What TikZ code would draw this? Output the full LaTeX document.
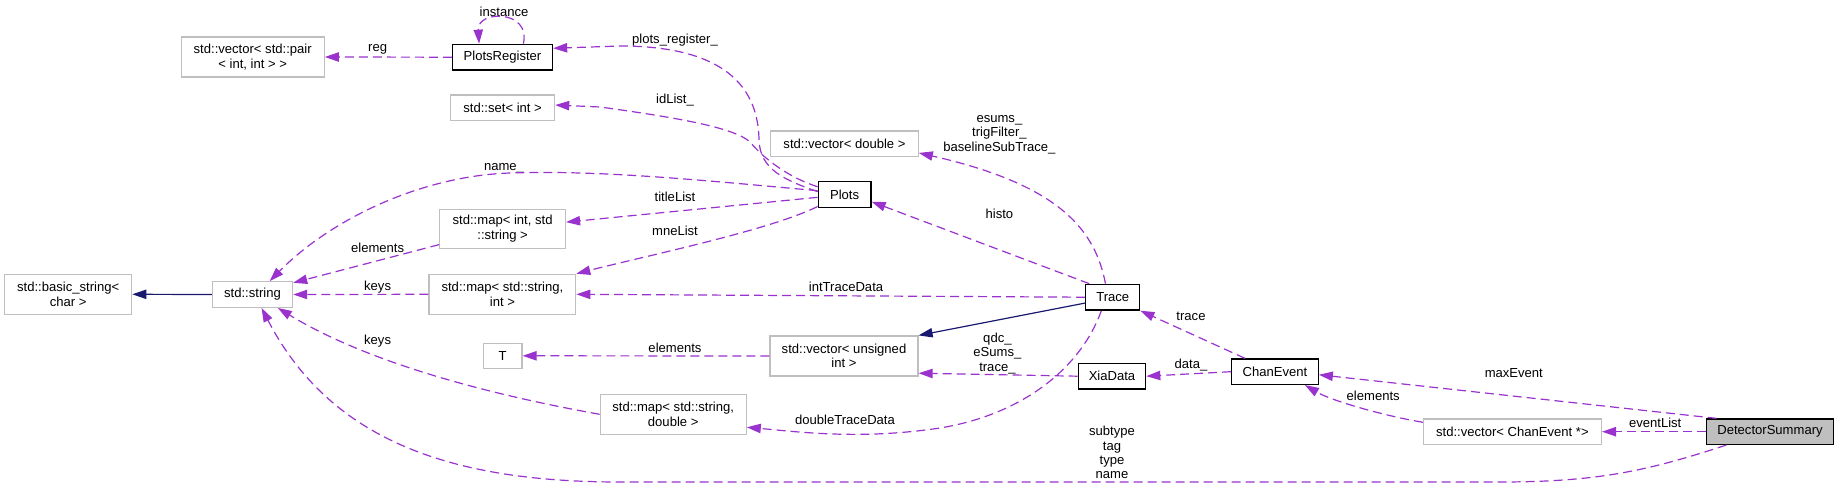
\documentclass[tikz,border=0pt]{standalone}
\usepackage{fontspec}
\setmainfont{Liberation Sans}
\usetikzlibrary{arrows.meta}
\definecolor{usecol}{HTML}{9A32CD}
\definecolor{inhcol}{HTML}{191970}
\definecolor{extcol}{HTML}{BFBFBF}

\begin{document}
\begin{tikzpicture}[x=0.75pt, y=-0.75pt,
    every node/.style={font=\fontsize{9.8}{10.8}\selectfont},
    cls/.style={draw=black, line width=1pt, rectangle, inner sep=0pt, minimum height=19.3pt, align=center},
    ext/.style={draw=extcol, line width=0.9pt, rectangle, inner sep=0pt, minimum height=19.3pt, align=center},
    two/.style={minimum height=30pt},
    use/.style={draw=usecol, line width=0.9pt, dash pattern=on 6.75pt off 3.75pt, -{Triangle[length=10.5pt,width=7pt]}},
    inh/.style={draw=inhcol, line width=0.9pt, -{Triangle[length=10.5pt,width=7pt]}},
    lbl/.style={inner sep=0pt, align=center}]
    \useasboundingbox (0,0) rectangle (1839,488);

    % classes
    \node[ext, two, minimum width=107.3pt] (pair) at (252.7,57) {std::vector< std::pair\\< int, int > >};
    \node[cls, minimum width=75pt] (PlotsRegister) at (502.5,57.2) {PlotsRegister};
    \node[ext, minimum width=78pt] (set) at (502.6,107.8) {std::set< int >};
    \node[ext, two, minimum width=94.3pt, minimum height=29.3pt] (mapint) at (502.6,228.8) {std::map< int, std\\::string >};
    \node[ext, two, minimum width=95.3pt] (basic) at (68.2,294.3) {std::basic\_string<\\char >};
    \node[ext, minimum width=60.2pt] (string) at (252.5,294.5) {std::string};
    \node[ext, two, minimum width=110pt] (mapint2) at (502.4,294.3) {std::map< std::string,\\int >};
    \node[ext, minimum width=29.1pt, minimum height=18.8pt] (T) at (502.6,355.8) {T};
    \node[ext, minimum width=110.6pt] (vdouble) at (844.5,143.8) {std::vector< double >};
    \node[cls, minimum width=39.5pt] (Plots) at (844.6,194.5) {Plots};
    \node[ext, two, minimum width=111pt] (vuint) at (844,356) {std::vector< unsigned\\int >};
    \node[ext, two, minimum width=109.5pt] (mapdouble) at (673.2,414.3) {std::map< std::string,\\double >};
    \node[cls, minimum width=40.5pt] (Trace) at (1112.7,297.2) {Trace};
    \node[cls, minimum width=50.5pt] (XiaData) at (1112,376.2) {XiaData};
    \node[cls, minimum width=64.8pt, minimum height=19pt] (ChanEvent) at (1275,371.7) {ChanEvent};
    \node[ext, minimum width=133.5pt, minimum height=19pt] (vchan) at (1512.4,431.7) {std::vector< ChanEvent *>};
    \node[cls, fill=extcol, minimum width=95.3pt, minimum height=19pt] (DetectorSummary) at (1770,431.7) {DetectorSummary};

    % labels
    \node[lbl] (lreg) at (377.6,49.3) {reg};
    \node[lbl] (linstance) at (504,11.7) {instance};
    \node[lbl] (lplotsreg) at (675,40) {plots\_register\_};
    \node[lbl] (lidlist) at (675,100) {idList\_};
    \node[lbl] (lname) at (504,168) {name\_};
    \node[lbl] (ltitle) at (675,196.7) {titleList};
    \node[lbl] (lmne) at (675,231) {mneList};
    \node[lbl] (lelem1) at (377.6,248.3) {elements};
    \node[lbl] (lkeys1) at (377.6,286.7) {keys};
    \node[lbl] (lkeys2) at (377.6,340.7) {keys};
    \node[lbl] (lesums) at (999.4,134.7) {esums\_\\trigFilter\_\\baselineSubTrace\_};
    \node[lbl] (lhisto) at (999.4,214.3) {histo};
    \node[lbl] (linttrace) at (846,286.7) {intTraceData};
    \node[lbl] (lelem2) at (675,348.3) {elements};
    \node[lbl] (lqdc) at (997.4,353.2) {qdc\_\\eSums\_\\trace\_};
    \node[lbl] (ldouble) at (845,420) {doubleTraceData};
    \node[lbl] (ltrace) at (1191,316.7) {trace};
    \node[lbl] (ldata) at (1191,365) {data\_};
    \node[lbl] (lsub) at (1112,452.7) {subtype\\tag\\type\\name};
    \node[lbl] (lmax) at (1513.8,372.7) {maxEvent};
    \node[lbl] (lelem3) at (1373.2,395.7) {elements};
    \node[lbl] (levent) at (1655.2,423.3) {eventList};

    % inheritance
    \draw[inh] (string.west) -- (basic.east);
    \draw[inh] (Trace.192) -- (vuint.north east);

    % usage
    \draw[use] (PlotsRegister.west) -- (pair.east);
    \draw[use] (PlotsRegister.33) .. controls +(8,-34) and +(-2,-34) .. (PlotsRegister.150);
    \draw[use] (Plots.174) .. controls (785,180) and (760,170) .. (759,140) .. controls (758,70) and (700,46) .. (620,46) -- (PlotsRegister.10);
    \draw[use] (Plots.164) .. controls (790,178) and (765,160) .. (750,142) .. controls (735,128) and (680,118) .. (600,107) -- (set.3);
    \draw[use] (Plots.172) .. controls (700,180) and (600,170) .. (510,173) .. controls (420,176) and (330,220) .. (string.38);
    \draw[use] (Plots.186) -- (mapint.6);
    \draw[use] (Plots.204) .. controls (770,230) and (650,255) .. (mapint2.north east);
    \draw[use] (mapint.194) -- (string.16);
    \draw[use] (mapint2.west) -- (string.east);
    \draw[use] (mapdouble.west) .. controls (520,400) and (380,370) .. (string.332);
    \draw[use] (Trace.west) -- (mapint2.east);
    \draw[use] (Trace.150) -- (Plots.345);
    \draw[use] (Trace.118) .. controls (1095,230) and (1060,185) .. (vdouble.353);
    \draw[use] (Trace.230) .. controls (1080,370) and (1020,415) .. (940,428) .. controls (860,440) and (800,432) .. (mapdouble.350);
    \draw[use] (vuint.west) -- (T.east);
    \draw[use] (XiaData.west) -- (vuint.347);
    \draw[use] (ChanEvent.156) -- (Trace.south east);
    \draw[use] (ChanEvent.west) -- (XiaData.east);
    \draw[use] (DetectorSummary.166) -- (ChanEvent.356);
    \draw[use] (vchan.174) .. controls (1380,415) and (1330,400) .. (ChanEvent.336);
    \draw[use] (DetectorSummary.west) -- (vchan.east);
    \draw[use] (DetectorSummary.197) .. controls (1650,470) and (1600,482) .. (1500,482) -- (620,482) .. controls (450,482) and (330,440) .. (string.304);
\end{tikzpicture}
\end{document}
